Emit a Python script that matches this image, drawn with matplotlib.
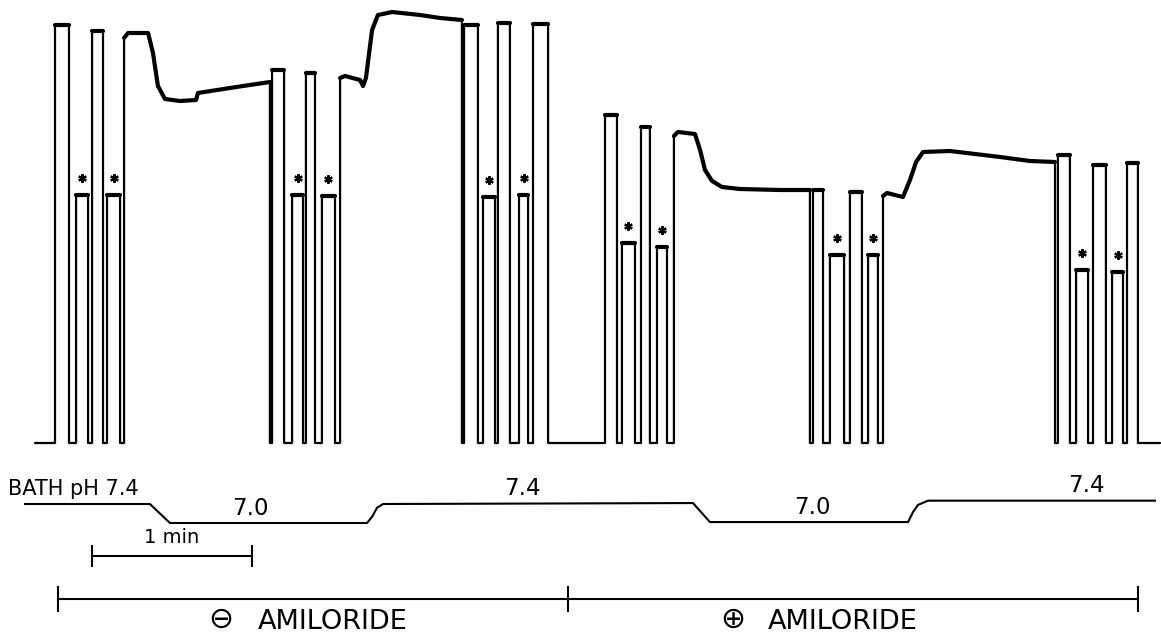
import matplotlib
matplotlib.use("Agg")
import matplotlib.pyplot as plt
from matplotlib.transforms import blended_transform_factory

# ---------------- data (time in s, signal in arbitrary units, baseline = 0) ----------------
t_start, t_end = 0.0, 421.9

# brief square test pulses: onset, offset, top level, marked with asterisk
pulse_on = [7.5, 15.4, 21.4, 27.0, 88.9, 96.4, 101.6, 107.6, 160.9, 168.0, 173.6, 181.5, 186.75,
            213.75, 220.1, 227.25, 233.25, 291.75, 298.1, 305.6, 312.4, 383.6, 390.4, 396.75, 403.9, 409.5]
pulse_off = [12.75, 19.9, 25.5, 31.9, 93.4, 100.5, 105.0, 112.5, 166.1, 172.5, 178.1, 184.9, 192.4,
             218.25, 225.0, 230.6, 237.0, 295.5, 303.4, 310.1, 316.1, 388.1, 394.9, 401.6, 408.0, 413.6]
pulse_top = [104.5, 62.0, 103.0, 62.0, 93.25, 62.0, 92.5, 61.75, 104.5, 61.5, 105.0, 62.0, 104.75,
             82.0, 50.0, 79.0, 49.0, 63.25, 47.0, 62.75, 47.0, 72.0, 43.25, 69.5, 42.75, 70.0]
pulse_star = [False, True, False, True, False, True, False, True, False, True, False, True, False,
              False, True, False, True, False, True, False, True, False, True, False, True, False]

# sustained recordings between pulse trains
plateau_t = [
    [33.4, 34.9, 42.4, 44.25, 46.1, 48.75, 54.4, 60.4, 61.1, 73.1, 88.1],
    [114.4, 116.25, 121.9, 123.0, 124.1, 126.4, 128.6, 133.9, 144.4, 151.9, 160.1],
    [239.6, 241.1, 247.5, 249.4, 251.25, 253.9, 257.6, 264.4, 279.4, 290.6],
    [318.0, 319.5, 325.5, 328.1, 330.4, 333.0, 343.1, 361.9, 373.1, 382.5],
]
plateau_v = [
    [101.25, 102.5, 102.5, 97.5, 89.25, 86.0, 85.5, 85.75, 87.5, 88.75, 90.25],
    [91.25, 91.75, 90.75, 89.25, 91.25, 103.25, 107.0, 107.75, 107.0, 106.25, 105.75],
    [76.75, 77.75, 77.25, 73.25, 68.25, 65.5, 64.0, 63.5, 63.25, 63.25],
    [61.75, 62.5, 61.5, 65.75, 70.25, 72.75, 73.0, 71.5, 70.5, 70.25],
]

# bath pH record
ph_t = [-3.75, 43.1, 50.6, 124.5, 126.4, 128.25, 130.5, 246.75, 253.1, 327.4, 329.25, 331.1, 334.9, 420.0]
ph_v = [7.4, 7.4, 7.0, 7.0, 7.13, 7.32, 7.4, 7.42, 7.02, 7.02, 7.23, 7.38, 7.47, 7.47]
ph_label_t = [80.6, 182.6, 291.4, 394.1]
ph_label_v = [7.0, 7.42, 7.02, 7.47]
ph_labels = ["7.0", "7.4", "7.0", "7.4"]

# 1 min calibration bar
scale_t = [21.4, 81.4]
# amiloride periods
amil_t = [8.6, 199.9, 413.6]
amil_signs = ["\u2296", "\u2295"]
amil_sign_t = [69.75, 261.75]
amil_word_t = [83.6, 274.9]

# ---------------- figure ----------------
fig = plt.figure(figsize=(11.61, 6.35), dpi=100)
ax = fig.add_axes([0, 0, 1, 1])
ax.set_xlim(-13.125, 422.25)
ax.set_ylim(-48.0, 110.75)
ax.axis("off")

# assemble trace
episodes = []
for on, off, top in zip(pulse_on, pulse_off, pulse_top):
    episodes.append(([on, off], [top, top]))
for pt, pv in zip(plateau_t, plateau_v):
    episodes.append((pt, pv))
episodes.sort(key=lambda e: e[0][0])

tx, vy = [t_start], [0.0]
for et, ev in episodes:
    tx += [et[0]] + list(et) + [et[-1]]
    vy += [0.0] + list(ev) + [0.0]
tx.append(t_end)
vy.append(0.0)
ax.plot(tx, vy, color="black", lw=1.6, solid_joinstyle="round", solid_capstyle="round")
for et, ev in episodes:
    ax.plot(et, ev, color="black", lw=3.0, solid_capstyle="round")

# asterisks
st_t = [(a + b) / 2 for a, b, s in zip(pulse_on, pulse_off, pulse_star) if s]
st_v = [v + 4.25 for v, s in zip(pulse_top, pulse_star) if s]
ax.plot(st_t, st_v, ls="none", marker=(6, 2, 0), ms=6, mew=1.6, color="black")

# pH record on its own vertical scale
axp = fig.add_axes([0, 0, 1, 1], sharex=ax)
axp.set_ylim(4.642, 18.011)
axp.axis("off")
axp.patch.set_alpha(0)
axp.plot(ph_t, ph_v, color="black", lw=1.5)
fam = ["DejaVu Sans"]
axp.annotate("BATH pH 7.4", (-10.1, 7.4), xytext=(0, 6.5), textcoords="offset points",
             ha="left", va="baseline", fontsize=15, family=fam)
for lt, lv, lab in zip(ph_label_t, ph_label_v, ph_labels):
    axp.annotate(lab, (lt, lv), xytext=(0, 6), textcoords="offset points",
                 ha="center", va="baseline", fontsize=16.5, family=fam)

# bars (time on x, layout fraction on y)
tr = blended_transform_factory(ax.transData, ax.transAxes)
yb = 0.1244
ax.plot(scale_t, [yb, yb], transform=tr, color="black", lw=1.5)
for s in scale_t:
    ax.plot([s, s], [yb - 0.016, yb + 0.016], transform=tr, color="black", lw=1.5)
ax.text((scale_t[0] + scale_t[1]) / 2, yb + 0.014, "1 min", transform=tr,
        ha="center", va="bottom", fontsize=14, family=fam)

ya = 0.0567
ax.plot([amil_t[0], amil_t[-1]], [ya, ya], transform=tr, color="black", lw=1.5)
for s in amil_t:
    ax.plot([s, s], [ya - 0.019, ya + 0.019], transform=tr, color="black", lw=1.5)
for sym, st, wt in zip(amil_signs, amil_sign_t, amil_word_t):
    ax.text(st, 0.024, sym, transform=tr, ha="center", va="center", fontsize=21.5, family=fam)
    ax.text(wt, 0.021, "AMILORIDE", transform=tr, ha="left", va="center", fontsize=19.5, family=fam)

fig.savefig("out.png", dpi=100, facecolor="white")
